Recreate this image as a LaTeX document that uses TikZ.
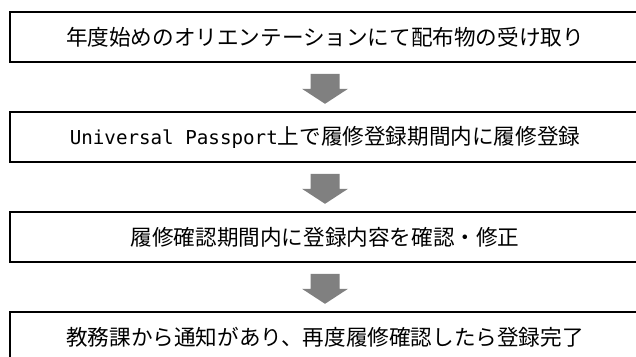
\documentclass[tikz,border=0pt]{standalone}
\usepackage{fontspec}
\usetikzlibrary{calc}
\newfontfamily\jpfont{Noto Sans CJK JP}
\newfontfamily\monofont{DejaVu Sans Mono}
\tikzset{
  stepbox/.style={draw=black, line width=1.6pt, fill=white, minimum width=630pt, minimum height=50pt,
    inner sep=0pt, font=\jpfont\fontsize{21.6}{26}\selectfont},
  arrowfill/.style={fill=black!50, draw=none}
}
\newcommand{\flowarrow}[1]{%
  \fill[arrowfill] ($(#1.south)+(-14.5,11)$) -- ($(#1.south)+(14.5,11)$) -- ($(#1.south)+(14.5,26)$)
    -- ($(#1.south)+(23,26)$) -- ($(#1.south)+(0,41)$) -- ($(#1.south)+(-23,26)$)
    -- ($(#1.south)+(-14.5,26)$) -- cycle;}
\begin{document}
\begin{tikzpicture}[x=1pt,y=-1pt]
\useasboundingbox (0,0) rectangle (636,356);
\clip (0,0) rectangle (636,356);
\fill[white] (0,0) rectangle (636,356);
\node[stepbox] (b1) at (325,37) {年度始めのオリエンテーションにて配布物の受け取り};
\node[stepbox] (b2) at (325,137) {{\monofont\fontsize{19.2}{26}\selectfont Universal Passport}上で履修登録期間内に履修登録};
\node[stepbox] (b3) at (325,237) {履修確認期間内に登録内容を確認・修正};
\node[stepbox] (b4) at (325,337) {教務課から通知があり、再度履修確認したら登録完了};
\flowarrow{b1}
\flowarrow{b2}
\flowarrow{b3}
\end{tikzpicture}
\end{document}
